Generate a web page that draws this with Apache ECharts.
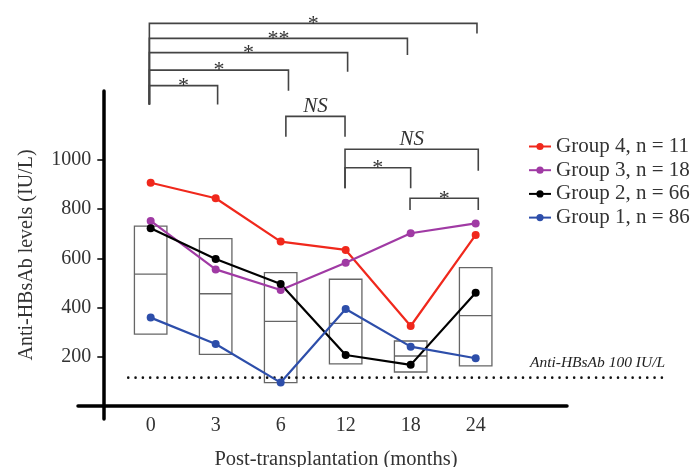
<!DOCTYPE html>
<html>
<head>
<meta charset="utf-8">
<script src="https://cdn.jsdelivr.net/npm/echarts@6/dist/echarts.min.js"></script>
<style>html,body{margin:0;padding:0;background:#fff}#c{width:692px;height:467px}</style>
</head>
<body>
<div id="c"></div>
<script>
// ---- data ----
const months = ['0', '3', '6', '12', '18', '24'];
const yTickValues = [200, 400, 600, 800, 1000];
const group4 = [907, 844, 668, 634, 325, 695];
const group3 = [752, 555, 471, 582, 702, 742];
const group2 = [722, 597, 496, 207, 167, 460];
const group1 = [359, 252, 95, 394, 241, 194];
const boxLow = [292, 210, 95, 171, 138, 163];
const boxMedian = [536, 456, 344, 336, 203, 367];
const boxHigh = [731, 680, 542, 515, 264, 562];
const thresholdValue = 115;
const thresholdSpan = [-0.345, 7.96];
const thresholdLabel = 'Anti-HBsAb 100 IU/L';
// brackets: [xStart, xEnd, yBar, yLeftLegEnd, yRightLegEnd]
const brackets = [
  [-0.02, 5.02, 1555, 1225, 1514],
  [-0.02, 3.95, 1494, 1225, 1426],
  [-0.02, 3.03, 1436, 1225, 1358],
  [-0.02, 2.12, 1365, 1225, 1281],
  [-0.02, 1.03, 1302, 1225, 1225],
  [2.08, 2.99, 1177, 1094, 1094],
  [2.99, 5.04, 1043, 885, 956],
  [2.99, 4.00, 968, 885, 885],
  [3.99, 5.04, 844, 796, 796]
];
const bracketLabels = ['*', '**', '*', '*', '*', 'NS', 'NS', '*', '*'];

const FONT = 'Liberation Serif';
const toPairs = arr => arr.map((v, i) => [i, v]);
const colors = {g4: '#f0281c', g3: '#a03aa4', g2: '#000000', g1: '#2d4eaa'};

const chart = echarts.init(document.getElementById('c'), null, {renderer: 'canvas'});

function lineSeries(name, data, color) {
  return {
    name: name, type: 'line', data: toPairs(data), z: 5,
    symbol: 'circle', symbolSize: 8,
    lineStyle: {color: color, width: 2.2},
    itemStyle: {color: color},
    emphasis: {disabled: true}
  };
}

const option = {
  animation: false,
  backgroundColor: '#fff',
  textStyle: {fontFamily: FONT},
  grid: {left: 78, right: 125, top: 91, bottom: 48, containLabel: false, outerBoundsMode: 'none'},
  xAxis: {
    type: 'value', min: -1.118, max: 6.405,
    axisLine: {show: true, onZero: true, lineStyle: {color: '#000', width: 3.5}},
    axisTick: {show: false},
    splitLine: {show: false},
    axisLabel: {
      customValues: [0, 1, 2, 3, 4, 5],
      formatter: v => months[Math.round(v)],
      margin: -3, fontSize: 20, color: '#333', fontFamily: FONT
    },
    name: 'Post-transplantation (months)',
    nameLocation: 'middle', nameGap: 30,
    nameTextStyle: {fontSize: 20.5, color: '#333', fontFamily: FONT, padding: [0, 0, 0, 27]}
  },
  yAxis: {
    type: 'value', min: -53, max: 1280, position: 'left', offset: -25.3,
    axisLine: {show: true, onZero: false, lineStyle: {color: '#000', width: 3.5}},
    axisTick: {show: true, length: 6, customValues: yTickValues, lineStyle: {color: '#000', width: 1.5}},
    splitLine: {show: false},
    axisLabel: {customValues: yTickValues, formatter: v => String(v), margin: 12, fontSize: 20, color: '#333', fontFamily: FONT},
    name: 'Anti-HBsAb levels (IU/L)',
    nameLocation: 'middle', nameGap: 67,
    nameTextStyle: {fontSize: 20, color: '#333', fontFamily: FONT}
  },
  legend: {
    orient: 'vertical', left: 523, top: 131,
    data: ['Group 4, n = 11', 'Group 3, n = 18', 'Group 2, n = 66', 'Group 1, n = 86'],
    itemWidth: 22, itemHeight: 9, itemGap: 2.7,
    textStyle: {fontSize: 21, color: '#333', fontFamily: FONT, lineHeight: 21},
    selectedMode: false
  },
  graphic: [{
    type: 'text', x: 597.5, y: 363,
    style: {text: thresholdLabel, fontFamily: FONT, fontStyle: 'italic', fontSize: 15.5, fill: '#222', align: 'center', verticalAlign: 'middle'}
  }],
  series: [
    {
      type: 'custom', name: 'boxes', z: 2, silent: true,
      data: boxLow.map((v, i) => [i, v, boxMedian[i], boxHigh[i]]),
      encode: {x: 0, y: [1, 2, 3]},
      renderItem: function (params, api) {
        const i = api.value(0);
        const tl = api.coord([i - 0.25, api.value(3)]);
        const br = api.coord([i + 0.25, api.value(1)]);
        const ml = api.coord([i - 0.25, api.value(2)]);
        const mr = api.coord([i + 0.25, api.value(2)]);
        return {
          type: 'group', children: [
            {type: 'rect', shape: {x: tl[0], y: tl[1], width: br[0] - tl[0], height: br[1] - tl[1]},
              style: {fill: 'none', stroke: '#666', lineWidth: 1.3}},
            {type: 'line', shape: {x1: ml[0], y1: ml[1], x2: mr[0], y2: mr[1]},
              style: {stroke: '#666', lineWidth: 1.3}}
          ]
        };
      }
    },
    {
      type: 'custom', name: 'threshold', z: 3, silent: true, clip: false,
      data: [[thresholdSpan[0], thresholdSpan[1], thresholdValue]],
      encode: {x: [0, 1], y: 2},
      renderItem: function (params, api) {
        const a = api.coord([api.value(0), api.value(2)]);
        const b = api.coord([api.value(1), api.value(2)]);
        return {type: 'line', shape: {x1: a[0], y1: a[1], x2: b[0], y2: b[1]},
          style: {stroke: '#111', lineWidth: 2.6, lineDash: [0.01, 7.3], lineCap: 'round'}};
      }
    },
    {
      type: 'custom', name: 'brackets', z: 4, silent: true, clip: false,
      data: brackets,
      encode: {x: [0, 1], y: [2, 3, 4]},
      renderItem: function (params, api) {
        const b = brackets[params.dataIndex];
        const lab = bracketLabels[params.dataIndex];
        const lb = api.coord([b[0], b[3]]);
        const lt = api.coord([b[0], b[2]]);
        const rt = api.coord([b[1], b[2]]);
        const rb = api.coord([b[1], b[4]]);
        const isNS = lab === 'NS';
        return {
          type: 'group', children: [
            {type: 'polyline', shape: {points: [lb, lt, rt, rb]},
              style: {stroke: '#444', lineWidth: 1.6, fill: null}},
            {type: 'text', x: (lt[0] + rt[0]) / 2, y: isNS ? lt[1] + 1 : lt[1] + 0.5,
              style: {text: lab, fontFamily: FONT, fontSize: isNS ? 21 : 22,
                fontStyle: isNS ? 'italic' : 'normal', fill: '#333',
                align: 'center', verticalAlign: isNS ? 'bottom' : 'middle'}}
          ]
        };
      }
    },
    lineSeries('Group 4, n = 11', group4, colors.g4),
    lineSeries('Group 3, n = 18', group3, colors.g3),
    lineSeries('Group 2, n = 66', group2, colors.g2),
    lineSeries('Group 1, n = 86', group1, colors.g1)
  ]
};
chart.setOption(option);
</script>
</body>
</html>
